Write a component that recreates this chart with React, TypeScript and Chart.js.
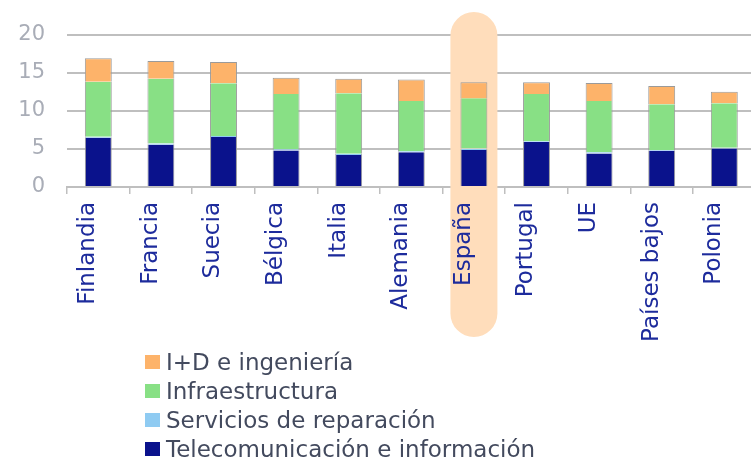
import React, { useEffect, useRef } from "react";
import { Chart, registerables } from "chart.js";

Chart.register(...registerables);

const categories = ["Finlandia", "Francia", "Suecia", "Bélgica", "Italia", "Alemania", "España", "Portugal", "UE", "Países bajos", "Polonia"];
const telecom = [6.45, 5.55, 6.55, 4.8, 4.2, 4.55, 4.85, 5.9, 4.4, 4.75, 5.05];
const reparacion = [0.15, 0.15, 0.15, 0.15, 0.15, 0.15, 0.2, 0.1, 0.15, 0.1, 0.1];
const infra = [7.2, 8.5, 6.9, 7.25, 7.95, 6.6, 6.6, 6.2, 6.75, 6.0, 5.85];
const idIng = [3.1, 2.35, 2.8, 2.15, 1.9, 2.8, 2.1, 1.55, 2.35, 2.4, 1.5];
const yTicks = [0, 5, 10, 15, 20];
const highlightIndex = 6;

const COLORS = {
  telecom: "#0A128C",
  rep: "#8FCBF2",
  infra: "#88E085",
  id: "#FDB36A",
  highlight: "#FFDDBB",
};

const legendItems = [
  { label: "I+D e ingeniería", color: COLORS.id },
  { label: "Infraestructura", color: COLORS.infra },
  { label: "Servicios de reparación", color: COLORS.rep },
  { label: "Telecomunicación e información", color: COLORS.telecom },
];

const highlightPlugin = {
  id: "highlight",
  beforeDatasetsDraw(chart: any) {
    const { ctx, scales } = chart;
    const cx = scales.x.getPixelForValue(highlightIndex);
    const w = 47;
    const top = 12;
    const bottom = 337;
    ctx.save();
    ctx.fillStyle = COLORS.highlight;
    ctx.beginPath();
    (ctx as any).roundRect(cx - w / 2, top, w, bottom - top, w / 2);
    ctx.fill();
    ctx.restore();
  },
};

export default function App() {
  const ref = useRef<HTMLCanvasElement>(null);

  useEffect(() => {
    if (!ref.current) return;
    const side = { left: 1, right: 1, top: 0, bottom: 0 };
    const chart = new Chart(ref.current, {
      type: "bar",
      data: {
        labels: categories,
        datasets: [
          { label: "Telecomunicación e información", data: telecom, backgroundColor: COLORS.telecom, borderColor: "#9a9a9a", borderWidth: side },
          { label: "Servicios de reparación", data: reparacion, backgroundColor: COLORS.rep, borderColor: "#9a9a9a", borderWidth: side },
          { label: "Infraestructura", data: infra, backgroundColor: COLORS.infra, borderColor: "#9a9a9a", borderWidth: side },
          { label: "I+D e ingeniería", data: idIng, backgroundColor: COLORS.id, borderColor: "#9a9a9a", borderWidth: { left: 1, right: 1, top: 1, bottom: 0 } },
        ],
      },
      options: {
        responsive: false,
        animation: false,
        layout: { padding: { top: 32, right: 2, bottom: 0, left: 0 } },
        plugins: { legend: { display: false }, tooltip: { enabled: false } },
        datasets: { bar: { barPercentage: 0.43, categoryPercentage: 1, borderSkipped: false } },
        scales: {
          x: {
            stacked: true,
            afterFit: (axis: any) => { axis.height = 272; },
            grid: { offset: true, drawOnChartArea: false, drawTicks: true, tickLength: 7, color: "#BFBFBF", lineWidth: 1.5 },
            border: { display: true, color: "#BFBFBF", width: 2 },
            ticks: {
              z: 1,
              autoSkip: false,
              minRotation: 90,
              maxRotation: 90,
              padding: 8,
              labelOffset: -10,
              color: "#1D2B9C",
              font: { family: "'DejaVu Sans'", size: 23 },
            },
          },
          y: {
            stacked: true,
            min: 0,
            max: 20,
            afterFit: (axis: any) => { axis.width = 67; },
            afterBuildTicks: (axis: any) => { axis.ticks = yTicks.map((v) => ({ value: v })); },
            grid: { color: "#BFBFBF", lineWidth: 2, drawTicks: false },
            border: { display: false },
            ticks: {
              padding: 22,
              color: "#A9ADB7",
              font: { family: "'DejaVu Sans'", size: 21 },
            },
          },
        },
      },
      plugins: [highlightPlugin],
    });
    return () => chart.destroy();
  }, []);

  return (
    <div style={{ position: "absolute", left: 0, top: 0, width: 751, height: 459, overflow: "hidden", background: "#fff" }}>
      <canvas ref={ref} width={760} height={459} style={{ display: "block" }} />
      <div style={{ position: "absolute", left: 145, top: 347, fontFamily: "'DejaVu Sans'", fontSize: 23, color: "#434A5E" }}>
        {legendItems.map((it) => (
          <div key={it.label} style={{ display: "flex", alignItems: "center", height: 29, whiteSpace: "nowrap" }}>
            <span style={{ display: "inline-block", width: 15, height: 14, background: it.color, marginRight: 6 }} />
            <span>{it.label}</span>
          </div>
        ))}
      </div>
    </div>
  );
}
